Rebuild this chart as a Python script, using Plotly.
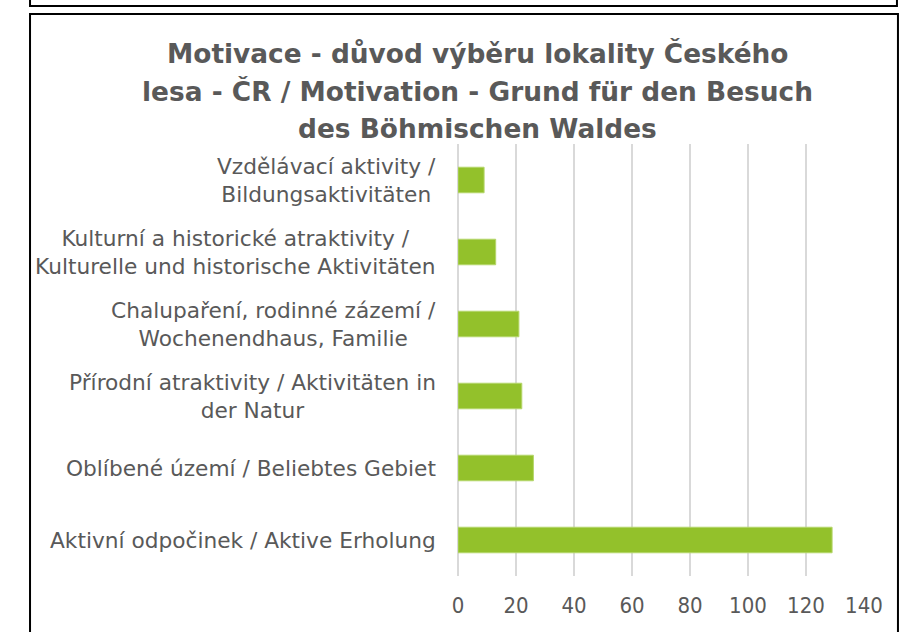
import plotly.graph_objects as go

# Data (bottom to top, as in the source chart)
categories = [
    "Aktivní odpočinek / Aktive Erholung",
    "Oblíbené území / Beliebtes Gebiet",
    "Přírodní atraktivity / Aktivitäten in<br>der Natur",
    "Chalupaření, rodinné zázemí /<br>Wochenendhaus, Familie",
    "Kulturní a historické atraktivity /<br>Kulturelle und historische Aktivitäten",
    "Vzdělávací aktivity /<br>Bildungsaktivitäten",
]
values = [129, 26, 22, 21, 13, 9]
x_ticks = [0, 20, 40, 60, 80, 100, 120, 140]
title_lines = [
    "Motivace - důvod výběru lokality Českého",
    "lesa - ČR / Motivation - Grund für den Besuch",
    "des Böhmischen Waldes",
]

FONT = "DejaVu Sans"
TICKFONT = "DejaVu Sans Condensed"
GREY = "#595959"
WIDTH, HEIGHT = 903, 632
L, R, T, B = 457.5, 864.0, 144.0, 576.0
PW, PH = R - L, B - T


def px_x(px):
    return (px - L) / PW


def px_y(py):
    return (B - py) / PH


fig = go.Figure(
    go.Bar(
        x=values,
        y=categories,
        orientation="h",
        marker=dict(color="#93c12b", line=dict(color="#b5d66a", width=1)),
        width=0.355,
        hoverinfo="skip",
    )
)

# category labels as centered multi-line annotations
for c in categories:
    fig.add_annotation(
        x=px_x(437), xref="paper", y=c, yref="y",
        text=c, showarrow=False, xanchor="right", yanchor="middle",
        align="center", font=dict(family=FONT, size=21.7, color=GREY),
    )

# title lines
for i, line in enumerate(title_lines):
    fig.add_annotation(
        x=px_x(477), xref="paper", y=px_y(53 + 38 * i), yref="paper",
        text="<b>%s</b>" % line, showarrow=False, xanchor="center", yanchor="middle",
        font=dict(family=FONT, size=26.4, color=GREY),
    )

# frames
fig.add_shape(type="rect", xref="paper", yref="paper",
              x0=px_x(29), x1=px_x(897), y0=px_y(6), y1=px_y(-20),
              line=dict(color="black", width=2), fillcolor="rgba(0,0,0,0)")
fig.add_shape(type="rect", xref="paper", yref="paper",
              x0=px_x(29), x1=px_x(898), y0=px_y(660), y1=px_y(14),
              line=dict(color="black", width=2), fillcolor="rgba(0,0,0,0)")

fig.update_layout(
    width=WIDTH, height=HEIGHT,
    margin=dict(l=L, r=WIDTH - R, t=T, b=HEIGHT - B, pad=0),
    paper_bgcolor="white", plot_bgcolor="white",
    showlegend=False,
    font=dict(family=FONT, color=GREY),
    xaxis=dict(
        range=[0, 140], tickvals=x_ticks, showgrid=True, gridcolor="#d9d9d9", gridwidth=1.5,
        zeroline=True, zerolinecolor="#d9d9d9", zerolinewidth=1.5, showline=False,
        ticks="", tickfont=dict(family=TICKFONT, size=22, color=GREY), ticklabelstandoff=14,
        fixedrange=True,
    ),
    yaxis=dict(
        categoryorder="array", categoryarray=categories, showticklabels=False,
        showgrid=False, zeroline=False, showline=False, ticks="",
        range=[-0.5, len(categories) - 0.5], fixedrange=True,
    ),
)

fig.write_html(
    "out.html",
    config={"displayModeBar": False},
    post_script="document.body.style.margin='0';document.body.style.overflow='hidden';",
)
